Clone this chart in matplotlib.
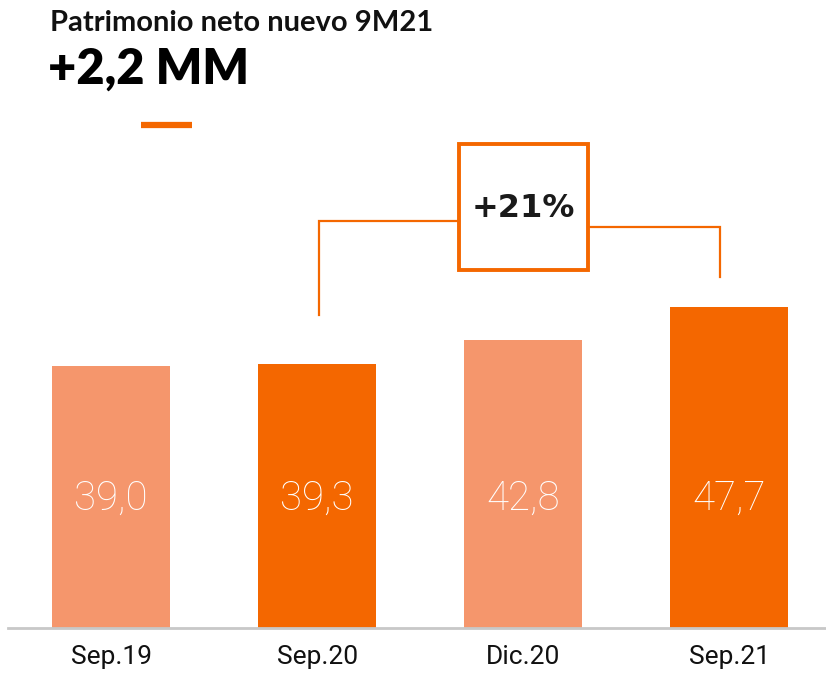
import matplotlib.pyplot as plt
from matplotlib.patches import Rectangle

categories = ['Sep.19', 'Sep.20', 'Dic.20', 'Sep.21']
values = [39.0, 39.3, 42.8, 47.7]
labels = ['39,0', '39,3', '42,8', '47,7']
bar_colors = ['#F5966C', '#F46700', '#F5966C', '#F46700']
orange = '#F46700'

fig = plt.figure(figsize=(8.26, 6.81), dpi=100)
W, H = 826, 681

# eje: linea base en y=628px, barras centradas en 111..729
ax = fig.add_axes([8 / W, 53 / H, (826 - 8) / W, 628 / H])
x = list(range(len(categories)))
ax.bar(x, values, width=0.573, color=bar_colors, zorder=2)
ax.set_xlim(-0.5, 3.47)
ax.set_ylim(0, 93.4)

for xi, v, lab in zip(x, values, labels):
    ax.text(xi, 19.2, lab, ha='center', va='center', color='white',
            fontsize=29, fontweight='light', family=['Roboto', 'DejaVu Sans'])

for s in ['top', 'right', 'left']:
    ax.spines[s].set_visible(False)
ax.spines['bottom'].set_color('#c8c8c8')
ax.spines['bottom'].set_linewidth(2)
ax.set_yticks([])
ax.set_xticks(x)
ax.set_xticklabels(categories, fontsize=19, color='#111111', fontweight='normal',
                   family=['Roboto', 'DejaVu Sans'])
ax.tick_params(axis='x', length=0, pad=12)

# corchete de comparacion Sep.20 -> Sep.21
y_line = 60.1
ax.plot([1.01, 1.01, 1.69], [values[1] + 7.3, y_line + 0.4, y_line + 0.4],
        color=orange, lw=1.6, solid_joinstyle='miter', zorder=3)
ax.plot([2.316, 2.955, 2.955], [y_line - 0.4, y_line - 0.4, values[3] + 4.5],
        color=orange, lw=1.6, solid_joinstyle='miter', zorder=3)
ax.add_patch(Rectangle((1.689, 53.3), 0.627, 18.7, fill=False,
                       edgecolor=orange, lw=2.8, zorder=4))
ax.text(2.0, 62.4, '+21%', ha='center', va='center', fontsize=23,
        fontweight='bold', color='#1a1a1a', zorder=5)

# titulos
fig.text(50 / W, 1 - 31 / H, 'Patrimonio neto nuevo 9M21', fontsize=21,
         fontweight='bold', family=['Lato', 'DejaVu Sans'], color='#111111')
fig.text(48 / W, 1 - 84 / H, '+2,2 MM', fontsize=35, fontweight='heavy',
         family=['Lato', 'DejaVu Sans'], color='#000000')
fig.add_artist(plt.Line2D([141 / W, 192 / W], [1 - 125 / H, 1 - 125 / H],
                          color=orange, lw=4.5, solid_capstyle='butt'))

plt.savefig('out.png', dpi=100)
plt.close()
